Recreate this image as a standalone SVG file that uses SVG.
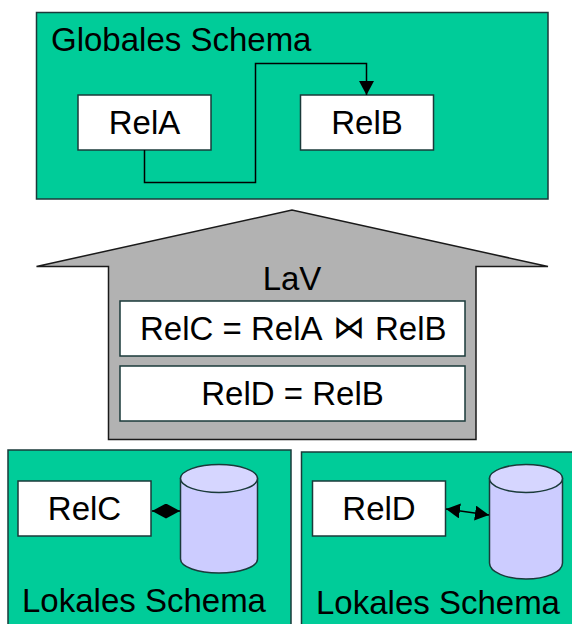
<svg xmlns="http://www.w3.org/2000/svg" width="572" height="624" viewBox="0 0 572 624">
<style>
.s{stroke:#1a3a3a;stroke-width:1.5}
.g{fill:#00cc99}
.w{fill:#fff}
.c{fill:#ccccff;stroke:#1a3a3a;stroke-width:1.5}
.ct{fill:#d6d6ff;stroke:#1a3a3a;stroke-width:1.5}
text{font-family:"Liberation Sans",Arial,sans-serif;font-size:33px;fill:#000}
.m{text-anchor:middle}
.l{fill:none;stroke:#000;stroke-width:1.5}
</style>
<defs>
<marker id="a" markerUnits="userSpaceOnUse" markerWidth="14" markerHeight="15" refX="14" refY="7.500" orient="auto"><path d="M0 0L14 7.500L0 15Z" fill="#000"/></marker>
<marker id="b" markerUnits="userSpaceOnUse" markerWidth="14" markerHeight="15" refX="0" refY="7.500" orient="auto"><path d="M14 0L0 7.500L14 15Z" fill="#000"/></marker>
</defs>
<g id="global"><rect class="g s" x="36.500" y="12.500" width="511.500" height="186.500"/><text x="51" y="51">Globales Schema</text></g>
<g id="relA"><rect class="w s" x="78" y="95" width="133" height="55"/><text class="m" x="144.500" y="134">RelA</text></g>
<g id="relB"><rect class="w s" x="300.500" y="95" width="133" height="55"/><text class="m" x="367" y="134">RelB</text></g>
<g id="lav"><path d="M36.500 266.500L292 210L548 266.500H476V439.500H108.500V266.500Z" fill="#b2b2b2" stroke="#1a1a1a" stroke-width="1.500"/><text class="m" x="292" y="290">LaV</text></g>
<g id="relC-def"><rect class="w s" x="120" y="301" width="345" height="55"/><text x="140" y="339.500">RelC = RelA<tspan x="333" y="338" style="font-family:'DejaVu Sans Light','DejaVu Sans',sans-serif;font-weight:200;font-size:32px">⋈</tspan><tspan x="375" y="339.500">RelB</tspan></text></g>
<g id="relD-def"><rect class="w s" x="120" y="366" width="345" height="55"/><text class="m" x="292.500" y="405">RelD = RelB</text></g>
<g id="local1"><rect class="g s" x="8" y="450" width="283" height="176"/><text x="22" y="612">Lokales Schema</text></g>
<g id="relC"><rect class="w s" x="18" y="481" width="133" height="55"/><text class="m" x="84.500" y="520">RelC</text></g>
<g id="db1"><path class="c" d="M180.500 478.500V559C180.500 567 198 573 219 573S257.500 567 257.500 559V478.500Z"/><ellipse class="ct" cx="219" cy="478.500" rx="38.500" ry="14"/></g>
<g id="local2"><rect class="g s" x="301.500" y="452" width="274" height="176"/><text x="316" y="614">Lokales Schema</text></g>
<g id="relD"><rect class="w s" x="312.500" y="481" width="133" height="55"/><text class="m" x="379" y="520">RelD</text></g>
<g id="db2"><path class="c" d="M489.500 478.500V563C489.500 572 506 579 526 579S562.500 572 562.500 563V478.500Z"/><ellipse class="ct" cx="526" cy="478.500" rx="36.500" ry="14"/></g>
<g id="connectors">
<path class="l" d="M144.500 150V182.500H255.500V63.500H366.500V95" marker-end="url(#a)"/>
<path class="l" d="M152 511L180 511" marker-start="url(#b)" marker-end="url(#a)"/>
<path class="l" d="M446 509L489 515" marker-start="url(#b)" marker-end="url(#a)"/>
</g>
</svg>
